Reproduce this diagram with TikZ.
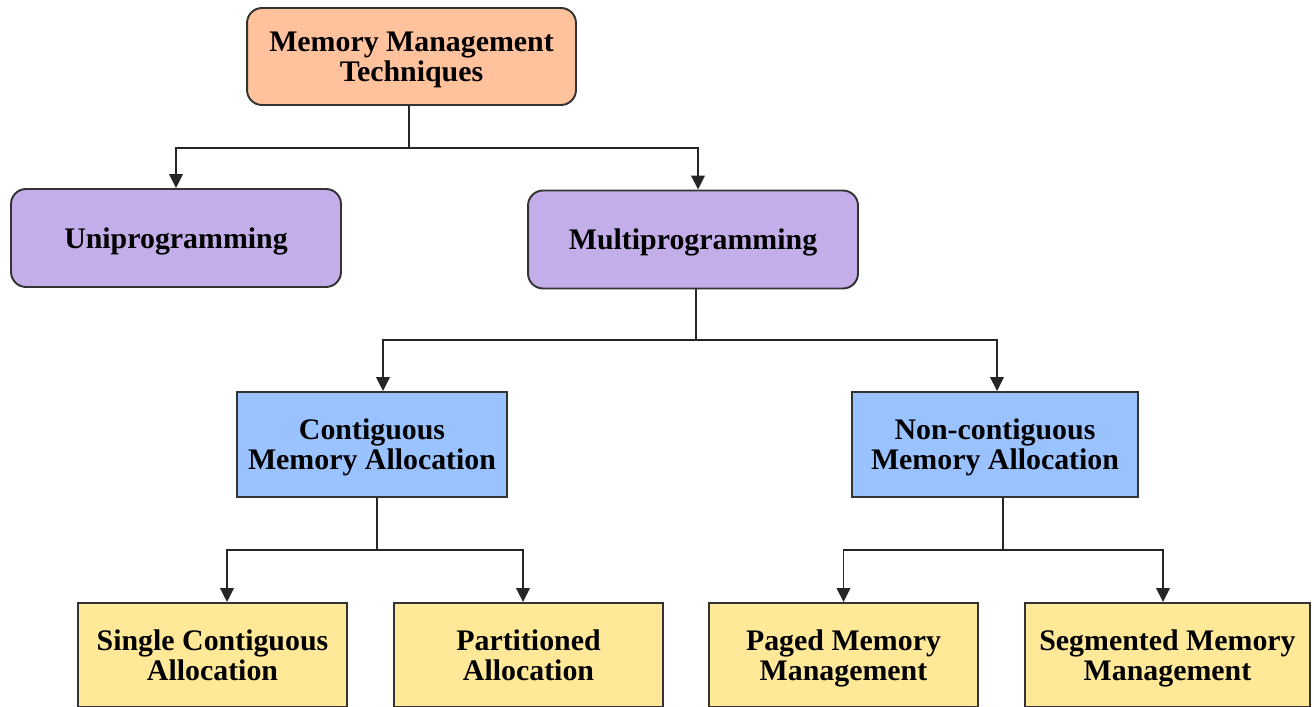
\documentclass[tikz,border=0pt]{standalone}
\usepackage{fontspec}
\setmainfont{Liberation Serif}
\usetikzlibrary{arrows.meta}

\definecolor{peach}{HTML}{FFC29C}
\definecolor{lavender}{HTML}{C3AEE9}
\definecolor{skyblue}{HTML}{99C2FF}
\definecolor{sand}{HTML}{FFE999}

\begin{document}
\begin{tikzpicture}[
        x=0.02cm, y=-0.02cm,
        rootn/.style={fill=peach, rounded corners=0.3cm, minimum width=6.58cm, minimum height=1.94cm},
        progn/.style={fill=lavender, rounded corners=0.3cm, minimum width=6.6cm, minimum height=1.96cm},
        allocn/.style={fill=skyblue, minimum height=2.1cm},
        leafn/.style={fill=sand, minimum height=2.08cm},
        every node/.style={draw=black!80, line width=1.1pt, align=center, inner sep=0pt, text depth=0pt,
            font=\bfseries\fontsize{17}{17}\selectfont},
        conn/.style={draw=black!85, line width=1.1pt, -{Triangle[length=0.28cm, width=0.27cm]}},
    ]
    \useasboundingbox (0,0) rectangle (1314,706);

    \node[rootn](root) at (411.5,56.5){Memory Management\\Techniques};

    \node[progn](uni) at (176,238){Uniprogramming};
    \node[progn](multi) at (693,239.5){Multiprogramming};

    \node[allocn, minimum width=5.4cm](contig) at (372,444.5){Contiguous\\Memory Allocation};
    \node[allocn, minimum width=5.72cm](noncontig) at (995,444.5){Non-contiguous\\Memory Allocation};

    \node[leafn, minimum width=5.38cm](single) at (212.5,655){Single Contiguous\\Allocation};
    \node[leafn, minimum width=5.38cm](part) at (528.5,655){Partitioned\\Allocation};
    \node[leafn, minimum width=5.38cm](paged) at (843.5,655){Paged Memory\\Management};
    \node[leafn, minimum width=5.7cm](seg) at (1167.5,655){Segmented Memory\\Management};

    % root -> programming
    \coordinate (bus1) at (409,148);
    \draw[conn, -] (root.south -| bus1) -- (bus1);
    \draw[conn] (bus1) -| (uni.north);
    \draw[conn] (bus1) -| ([xshift=0.1cm]multi.north);

    % multiprogramming -> allocation
    \coordinate (bus2) at (696,340);
    \draw[conn, -] (multi.south -| bus2) -- (bus2);
    \draw[conn] (bus2) -| ([xshift=0.22cm]contig.north);
    \draw[conn] (bus2) -| ([xshift=0.04cm]noncontig.north);

    % contiguous -> leaves
    \coordinate (bus3) at (377,550);
    \draw[conn, -] (contig.south -| bus3) -- (bus3);
    \draw[conn] (bus3) -| ([xshift=0.29cm]single.north);
    \draw[conn] (bus3) -| ([xshift=-0.11cm]part.north);

    % non-contiguous -> leaves
    \coordinate (bus4) at (1003,550);
    \draw[conn, -] (noncontig.south -| bus4) -- (bus4);
    \draw[conn] (bus4) -| (paged.north);
    \draw[conn] (bus4) -| ([xshift=-0.09cm]seg.north);
\end{tikzpicture}
\end{document}
